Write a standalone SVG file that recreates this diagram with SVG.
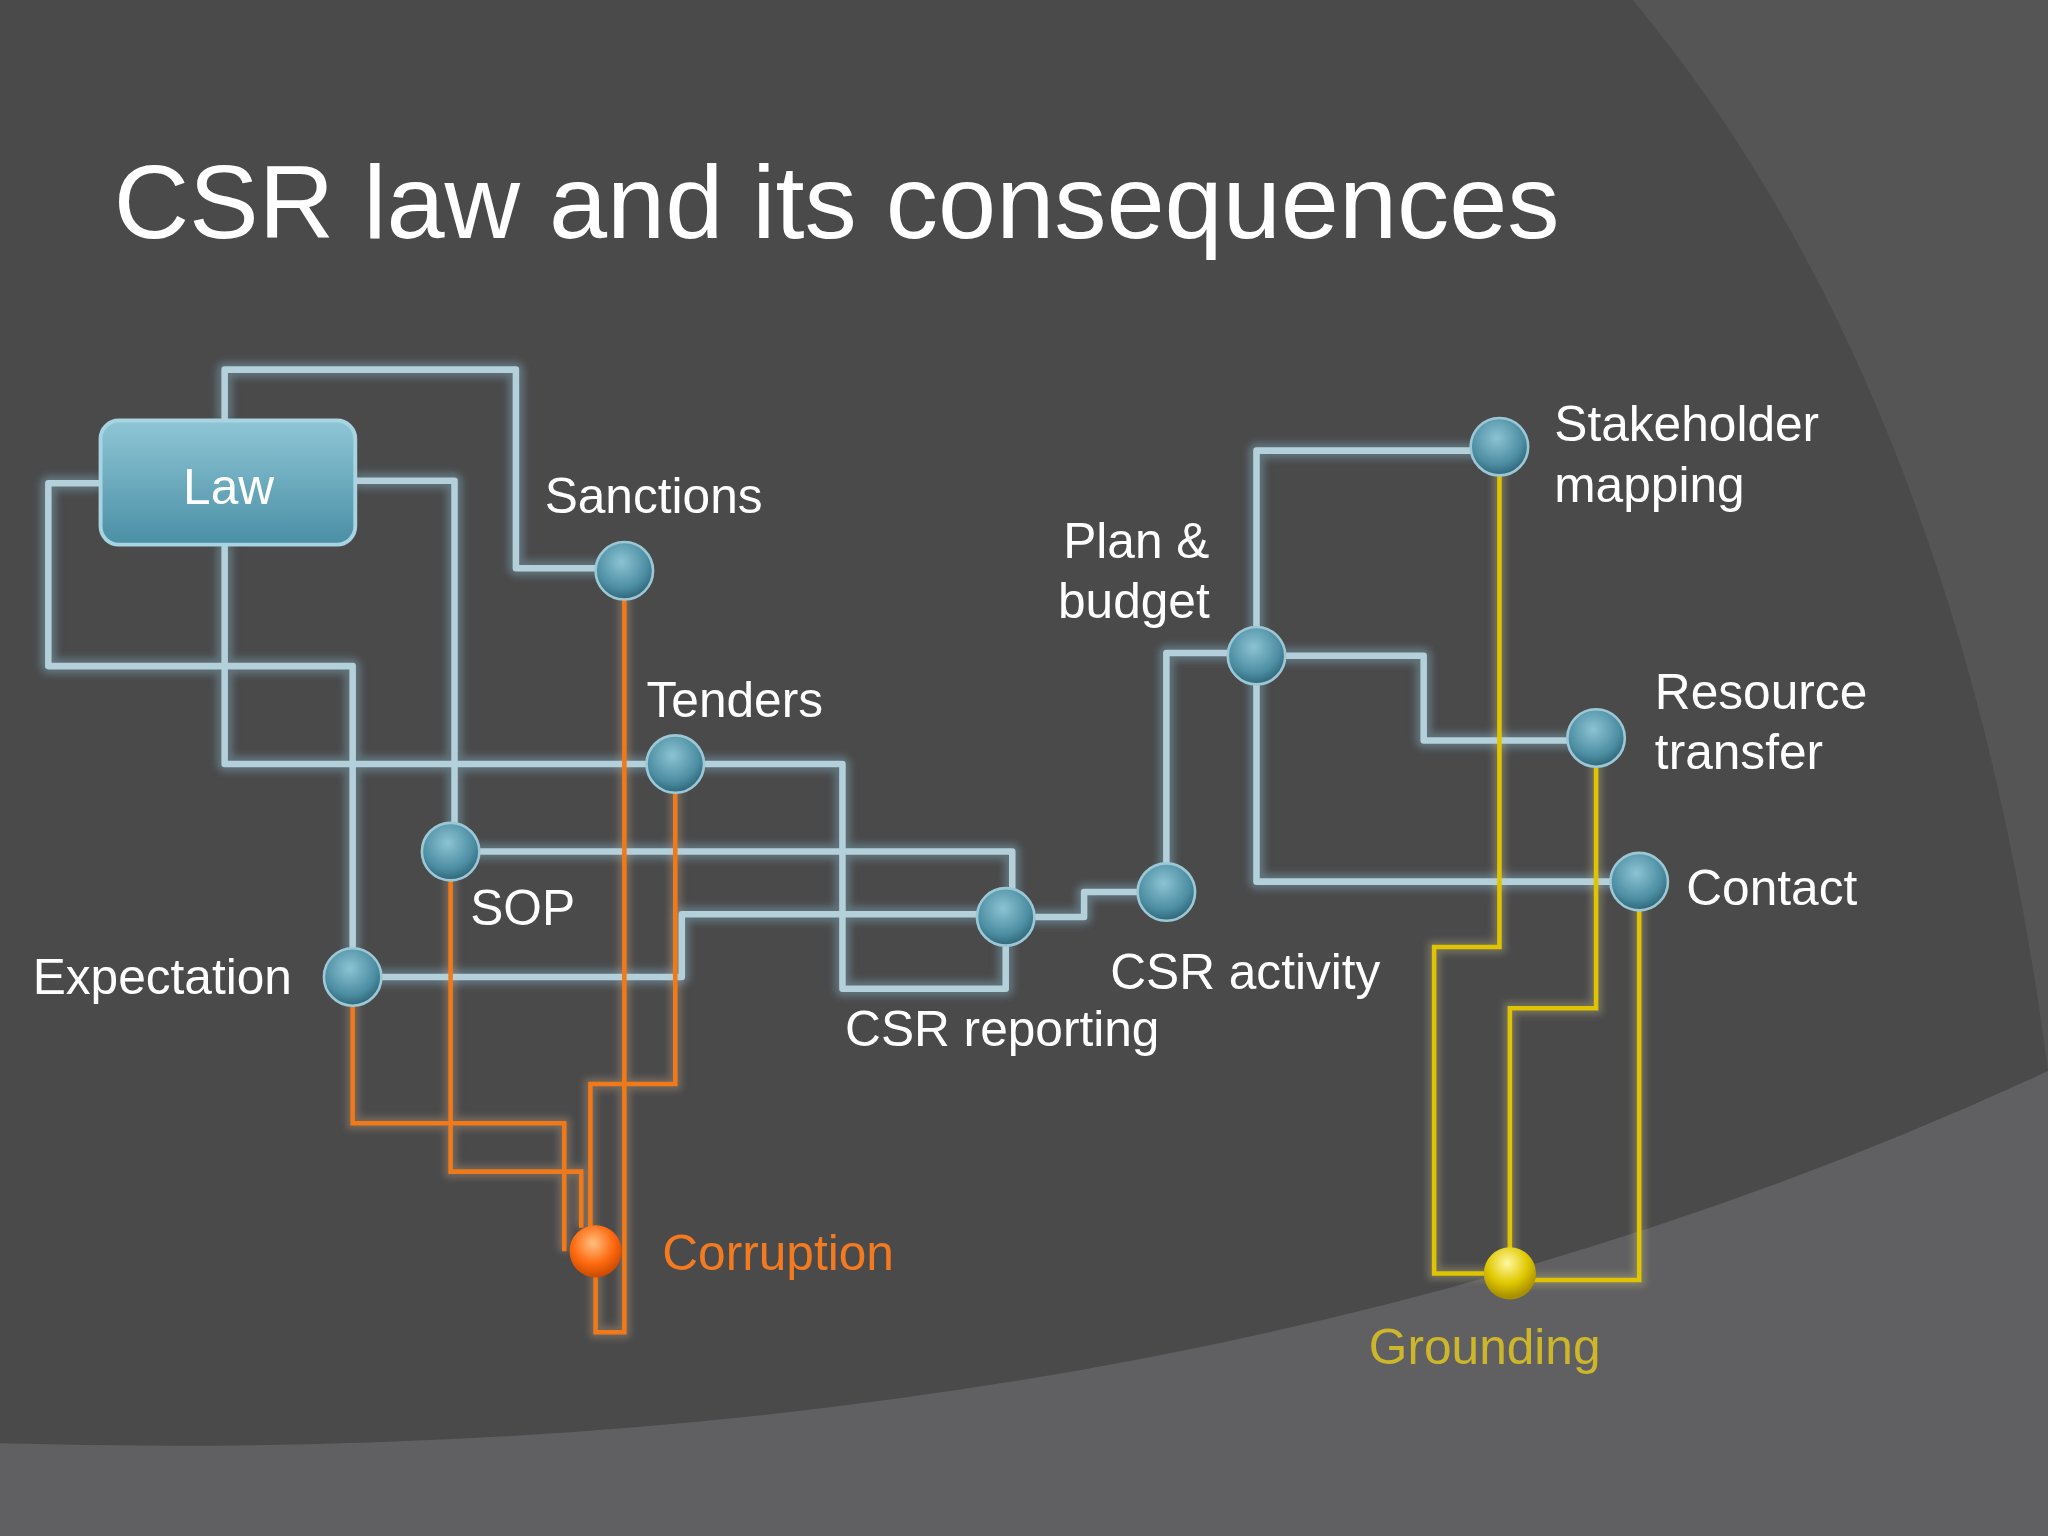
<svg xmlns="http://www.w3.org/2000/svg" width="2048" height="1536" viewBox="0 0 2048 1536">
<defs>
<style>
.b{fill:none;stroke:#b4d0da;stroke-width:5;stroke-linejoin:round}
.bg{fill:none;stroke:#7fa9b8;stroke-width:12;opacity:.45;stroke-linejoin:round}
.o{fill:none;stroke:#f07a1a;stroke-width:3.5}
.y{fill:none;stroke:#e0c400;stroke-width:3.5}
.og{fill:none;stroke:#c9a27f;stroke-width:9;opacity:.35}
.yg{fill:none;stroke:#c8bf80;stroke-width:9;opacity:.35}
text{font-family:"Liberation Sans","DejaVu Sans",sans-serif;fill:#fff;font-size:38px}
</style>
<radialGradient id="nb" cx="45%" cy="35%" r="65%"><stop offset="0" stop-color="#8cc3d3"/><stop offset=".7" stop-color="#4d8ea3"/><stop offset="1" stop-color="#2f6679"/></radialGradient>
<radialGradient id="no" cx="45%" cy="35%" r="65%"><stop offset="0" stop-color="#ffc080"/><stop offset=".6" stop-color="#ff6a10"/><stop offset="1" stop-color="#c84a00"/></radialGradient>
<radialGradient id="ny" cx="45%" cy="30%" r="65%"><stop offset="0" stop-color="#fff8a0"/><stop offset=".6" stop-color="#e0c800"/><stop offset="1" stop-color="#a89000"/></radialGradient>
<linearGradient id="lb" x1="0" y1="0" x2="0" y2="1"><stop offset="0" stop-color="#8ec6d6"/><stop offset="1" stop-color="#4a8fa5"/></linearGradient>
<filter id="gl" x="-20%" y="-20%" width="140%" height="140%"><feGaussianBlur stdDeviation="3"/></filter>
</defs>
<g transform="scale(1.306122)">
<rect width="1568" height="1176" fill="#4a4a4b"/>
<path d="M1250 0 Q1500 300 1568 820 V0 Z" fill="#555556"/>
<path d="M0 1105 Q900 1130 1568 820 V1176 H0 Z" fill="#606062"/>
<text x="87" y="182" style="font-size:80px">CSR law and its consequences</text>
<g id="connectors">
<g filter="url(#gl)">
<path class="bg" d="M172 322V283H395V435H478 M77 370H37V510H270V748 M272 368H348V652 M172 417V585H517 M517 585H645V757H770V702 M345 652H775V702 M270 748H522V700H770 M770 702H830V683H893 M893 683V500H962 M962 502H1090V567H1222 M962 502V345H1148 M962 502V675H1255"/>
<path class="og" d="M478 437V1020H456V958 M517 585V830H452V958 M345 652V897H445V940 M270 748V860H432V958"/>
<path class="yg" d="M1148 342V725H1098V975H1156 M1222 565V772H1156V975 M1255 675V980H1156"/>
</g>
<path class="b" d="M172 322V283H395V435H478 M77 370H37V510H270V748 M272 368H348V652 M172 417V585H517 M517 585H645V757H770V702 M345 652H775V702 M270 748H522V700H770 M770 702H830V683H893 M893 683V500H962 M962 502H1090V567H1222 M962 502V345H1148 M962 502V675H1255"/>
<path class="o" d="M478 437V1020H456V958 M517 585V830H452V958 M345 652V897H445V940 M270 748V860H432V958"/>
<path class="y" d="M1148 342V725H1098V975H1156 M1222 565V772H1156V975 M1255 675V980H1156"/>
</g>
<g id="law"><rect x="77" y="322" width="195" height="95" rx="14" fill="url(#lb)" stroke="#a8d4e2" stroke-width="3"/><text x="175" y="386" text-anchor="middle">Law</text></g>
<g id="sanctions"><circle cx="478" cy="437" r="22" fill="url(#nb)" stroke="#9cc8d6" stroke-width="2"/><text x="417" y="393">Sanctions</text></g>
<g id="tenders"><circle cx="517" cy="585" r="22" fill="url(#nb)" stroke="#9cc8d6" stroke-width="2"/><text x="495" y="549">Tenders</text></g>
<g id="sop"><circle cx="345" cy="652" r="22" fill="url(#nb)" stroke="#9cc8d6" stroke-width="2"/><text x="360" y="708">SOP</text></g>
<g id="expectation"><circle cx="270" cy="748" r="22" fill="url(#nb)" stroke="#9cc8d6" stroke-width="2"/><text x="25" y="761">Expectation</text></g>
<g id="csrreporting"><circle cx="770" cy="702" r="22" fill="url(#nb)" stroke="#9cc8d6" stroke-width="2"/><text x="647" y="801">CSR reporting</text></g>
<g id="csractivity"><circle cx="893" cy="683" r="22" fill="url(#nb)" stroke="#9cc8d6" stroke-width="2"/><text x="850" y="757">CSR activity</text></g>
<g id="plan"><circle cx="962" cy="502" r="22" fill="url(#nb)" stroke="#9cc8d6" stroke-width="2"/><text x="814" y="427">Plan &amp;</text><text x="810" y="473">budget</text></g>
<g id="stakeholder"><circle cx="1148" cy="342" r="22" fill="url(#nb)" stroke="#9cc8d6" stroke-width="2"/><text x="1190" y="338">Stakeholder</text><text x="1190" y="384">mapping</text></g>
<g id="resource"><circle cx="1222" cy="565" r="22" fill="url(#nb)" stroke="#9cc8d6" stroke-width="2"/><text x="1267" y="543">Resource</text><text x="1267" y="589">transfer</text></g>
<g id="contact"><circle cx="1255" cy="675" r="22" fill="url(#nb)" stroke="#9cc8d6" stroke-width="2"/><text x="1291" y="693">Contact</text></g>
<g id="corruption"><circle cx="456" cy="958" r="20" fill="url(#no)"/><text x="507" y="972" style="fill:#f47a20">Corruption</text></g>
<g id="grounding"><circle cx="1156" cy="975" r="20" fill="url(#ny)"/><text x="1048" y="1044" style="fill:#cdb62a">Grounding</text></g>
</g>
</svg>
